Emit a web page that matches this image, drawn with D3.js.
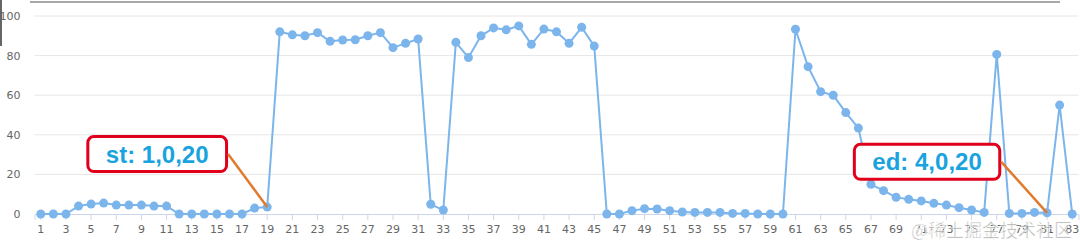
<!DOCTYPE html>
<html>
<head>
<meta charset="utf-8">
<script src="https://cdn.jsdelivr.net/npm/d3@7"></script>
<style>
  body { margin: 0; background: #fff; }
  svg { display: block; }
  .axis text { font-family: "DejaVu Sans", sans-serif; font-size: 11px; fill: #666; }
</style>
</head>
<body>
<div id="chart"></div>
<script>
var svgWidth = 1080;
var svgHeight = 247;

var margin = { top: 16, right: 1.5, bottom: 33, left: 34.5 };
var width = svgWidth - margin.left - margin.right;
var height = svgHeight - margin.top - margin.bottom;

// categories 1..83
var categories = d3.range(1, 84);

var values = [
  0, 0, 0, 4, 5, 5.5, 4.5, 4.5, 4.5, 4, 4, 0, 0, 0, 0, 0, 0, 3, 3.5,
  92, 90.5, 90, 91.6, 87.2, 87.9, 88, 90, 91.6, 84, 86.2, 88.4,
  4.9, 2, 86.7, 79, 90, 94, 93, 95, 85.7, 93.4, 92, 86.2, 94.3, 84.8,
  0, 0, 1.7, 2.7, 2.5, 1.7, 1, 0.8, 0.8, 0.8, 0.3, 0.3, 0, 0, 0,
  93.3, 74.4, 61.8, 60, 51.2, 43.4, 15, 11.8, 8.4, 7.4, 6.6, 5.4, 4.5, 3.2, 2, 0.8,
  80.6, 0.3, 0.3, 0.8, 0.6, 55, 0
];

var yTicks = [0, 20, 40, 60, 80, 100];

var noteTexts = ["st: 1,0,20", "ed: 4,0,20"];
var noteTargets = [19, 81];

var svg = d3.select("#chart")
  .append("svg")
  .attr("width", svgWidth)
  .attr("height", svgHeight);

// frame bits of the screenshot
svg.append("line")
  .attr("x1", 30).attr("x2", 1060)
  .attr("y1", 2).attr("y2", 2)
  .attr("stroke", "#a8a8a8")
  .attr("stroke-width", 2);
svg.append("rect")
  .attr("x", 0).attr("y", 0)
  .attr("width", 2).attr("height", 46)
  .attr("fill", "#666");

var chartGroup = svg.append("g")
  .attr("transform", `translate(${margin.left}, ${margin.top})`);

var xScale = d3.scaleBand()
  .domain(categories)
  .range([0, width]);

var yScale = d3.scaleLinear()
  .domain([0, 100])
  .range([height, 0]);

var cx = d => xScale(d) + xScale.bandwidth() / 2;

// gridlines
chartGroup.selectAll(".grid")
  .data(yTicks.filter(t => t > 0))
  .enter()
  .append("line")
  .attr("x1", 0).attr("x2", width)
  .attr("y1", d => yScale(d)).attr("y2", d => yScale(d))
  .attr("stroke", "#e6e6e6")
  .attr("stroke-width", 1);

// y axis labels
var yAxis = d3.axisLeft(yScale).tickValues(yTicks).tickSize(0).tickPadding(14);
chartGroup.append("g")
  .attr("class", "axis")
  .call(yAxis)
  .call(g => g.select(".domain").remove());

// x axis
var xAxis = d3.axisBottom(xScale)
  .tickValues(categories.filter(c => c % 2 === 1))
  .tickSize(6)
  .tickPadding(5);
chartGroup.append("g")
  .attr("class", "axis")
  .attr("transform", `translate(0, ${height})`)
  .call(xAxis)
  .call(g => g.select(".domain").attr("stroke", "#ccd6eb"))
  .call(g => g.selectAll(".tick line").attr("stroke", "#ccd6eb"));

// series
var line = d3.line()
  .x((d, i) => cx(categories[i]))
  .y(d => yScale(d));

chartGroup.append("path")
  .datum(values)
  .attr("d", line)
  .attr("fill", "none")
  .attr("stroke", "#7cb5ec")
  .attr("stroke-width", 2)
  .attr("stroke-linejoin", "round");

chartGroup.selectAll(".dot")
  .data(values)
  .enter()
  .append("circle")
  .attr("cx", (d, i) => cx(categories[i]))
  .attr("cy", d => yScale(d))
  .attr("r", 4.5)
  .attr("fill", "#7cb5ec");

// watermark
svg.append("text")
  .attr("x", 1072)
  .attr("y", 237)
  .attr("text-anchor", "end")
  .attr("font-family", "Noto Sans CJK SC, sans-serif")
  .attr("font-size", 18)
  .attr("fill", "#8a8a8a")
  .attr("fill-opacity", 0.75)
  .attr("stroke", "#fff")
  .attr("stroke-width", 0.6)
  .text("@稀土掘金技术社区");

// annotations
var noteOffsets = [[-110, -53], [-120, -51]];
noteTexts.forEach(function(txt, k) {
  var cat = noteTargets[k];
  var px = cx(cat), py = yScale(values[categories.indexOf(cat)]);
  var bx = px + noteOffsets[k][0], by = py + noteOffsets[k][1];
  var g = chartGroup.append("g");
  var rect = g.append("rect");
  var label = g.append("text")
    .attr("x", bx)
    .attr("y", by)
    .attr("text-anchor", "middle")
    .attr("dominant-baseline", "central")
    .attr("font-family", "Liberation Sans, Arial, sans-serif")
    .attr("font-weight", "bold")
    .attr("font-size", 24)
    .attr("fill", "#1aa3de")
    .text(txt);
  var w = label.node().getComputedTextLength() + 36;
  var h = 35;
  rect.attr("x", bx - w / 2)
    .attr("y", by - h / 2)
    .attr("width", w)
    .attr("height", h)
    .attr("rx", 6)
    .attr("fill", "#fff")
    .attr("stroke", "#e0001b")
    .attr("stroke-width", 3);
  g.append("line")
    .attr("x1", bx + w / 2 + 1.5)
    .attr("y1", by)
    .attr("x2", px)
    .attr("y2", py)
    .attr("stroke", "#e07b2e")
    .attr("stroke-width", 2.5);
});
</script>
</body>
</html>
